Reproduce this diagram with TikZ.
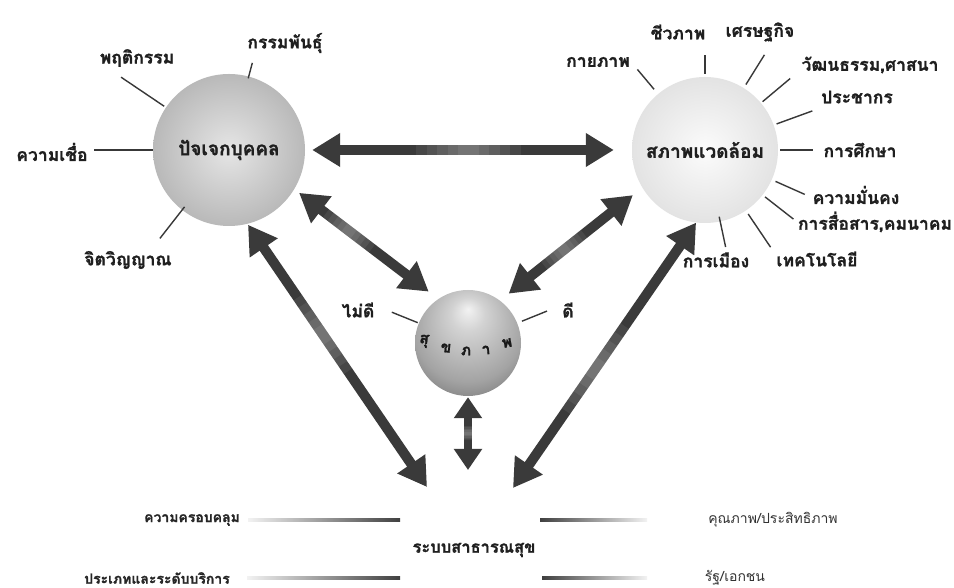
\documentclass[tikz,border=0pt]{standalone}
\usepackage{fontspec}
\usetikzlibrary{arrows.meta,calc}
\newfontfamily\thai[Script=Thai]{Loma}
\newfontfamily\thaihv[Script=Thai,FakeBold=1.2]{Loma}
\definecolor{arrcol}{RGB}{58,58,58}
\pgfdeclareradialshading{sphc}{\pgfpoint{0bp}{16bp}}{color(0bp)=(gray!10); color(8bp)=(gray!35); color(26bp)=(gray!72); color(50bp)=(black!78)}
\tikzset{
  lbl/.style={font=\thaihv\bfseries\fontsize{17.5}{20}\selectfont, inner sep=0pt, text=black!88},
  lbls/.style={font=\thaihv\bfseries\fontsize{14}{16}\selectfont, inner sep=0pt, text=black!85},
  lblr/.style={font=\thai\fontsize{14}{16}\selectfont, inner sep=0pt, text=black!80},
  lead/.style={draw=black!78, line width=1.4pt},
  bigarr/.style={draw=arrcol, line width=10pt, {Triangle[length=28pt,width=32pt]}-{Triangle[length=28pt,width=32pt]}},
  smallarr/.style={draw=arrcol, line width=8pt, {Triangle[length=21pt,width=27pt]}-{Triangle[length=21pt,width=27pt]}},
  hl/.style={draw=white, line width=10pt, opacity=0.07},
  sphere/.style={circle, inner sep=0pt},
  sphtxt/.style={font=\thaihv\bfseries\fontsize{19}{22}\selectfont, text=black!88}
}
\newcommand\ldr[4]{\draw[lead] ($(#1.#2)!-#3!(#1)$) -- ($(#1.#2)!-#4!(#1)$);}
% soft highlight on an arrow between points #2 and #3, centred at fraction #4, half-width #5
\newcommand\soft[5][10pt]{%
  \foreach \w in {1,0.8,0.6,0.4,0.2}{%
    \draw[hl, line width=#1] ($(#2)!{#4-#5*\w}!(#3)$) -- ($(#2)!{#4+#5*\w}!(#3)$);}}
\begin{document}
\begin{tikzpicture}[x=1pt,y=1pt]
\useasboundingbox (0,0) rectangle (954,588);
\fill[white] (0,0) rectangle (954,588);

% spheres
\node[sphere, minimum size=152pt, shade, inner color=gray!20, outer color=gray!55, sphtxt] (L) at (229,438) {ปัจเจกบุคคล};
\node[sphere, minimum size=146pt, shade, inner color=gray!3, outer color=gray!22, sphtxt] (R) at (705,438) {สภาพแวดล้อม};
\node[sphere, minimum size=106pt, shading=sphc] (C) at (468,245) {};

% letters on central sphere
\begin{scope}[every node/.style={font=\thaihv\bfseries\fontsize{15.5}{17}\selectfont, inner sep=0pt, text=black!90}]
\node[rotate=-8]  (h1) at (424,247) {สุ};
\node[rotate=-5]  (h2) at (446,240) {ข};
\node             (h3) at (466,237) {ภ};
\node[rotate=5]   (h4) at (486,238) {า};
\node[rotate=10]  (h5) at (507,245) {พ};
\end{scope}

% bottom label
\node[font=\thaihv\bfseries\fontsize{16.5}{19}\selectfont, inner sep=0pt, text=black!88] (S) at (474,38) {ระบบสาธารณสุข};

% arrows
\draw[bigarr, shorten <=7pt, shorten >=18pt] (L.east) -- (R.west);
\soft{L.east}{R.west}{0.5}{0.16}

\draw[bigarr, shorten <=6pt, shorten >=12pt] (L.-31) -- (C.124);
\soft{L.-31}{C.124}{0.38}{0.16}

\draw[bigarr, shorten <=12pt, shorten >=11pt] (R.-149) -- (C.53);
\soft{R.-149}{C.53}{0.55}{0.14}

\coordinate (a4) at (427,101);
\coordinate (a5) at (513,100);
\coordinate (a6) at (468,118);
\draw[bigarr, shorten <=1pt] (L.-76) -- (a4);
\soft{L.-76}{a4}{0.42}{0.14}
\draw[bigarr] (R.-97) -- (a5);
\soft{R.-97}{a5}{0.55}{0.16}
\draw[smallarr, shorten <=1pt] (C.south) -- (a6);
\soft[8pt]{C.south}{a6}{0.5}{0.1}

% labels left sphere
\node[lbl] (pf) at (137,530) {พฤติกรรม};
\node[lbl] (gp) at (285,545) {กรรมพันธุ์};
\node[lbl] (kc) at (52,436) {ความเชื่อ};
\node[lbl] (jv) at (128,328) {จิตวิญญาณ};
\ldr{L}{146}{2pt}{54pt}
\ldr{L}{75}{-2pt}{14pt}
\ldr{L}{180}{0pt}{59pt}
\ldr{L}{232}{-4pt}{36pt}

% labels right sphere
\node[lbl] (kp) at (598,526) {กายภาพ};
\node[lbl] (cp) at (678,556) {ชีวภาพ};
\node[lbl] (sk) at (760,556) {เศรษฐกิจ};
\node[lbl] (wt) at (870,523) {วัฒนธรรม,ศาสนา};
\node[lbl] (pc) at (857,491) {ประชากร};
\node[lbl] (ks) at (860,438) {การศึกษา};
\node[lbl] (mk) at (856,393) {ความมั่นคง};
\node[lbl] (ss) at (875,366) {การสื่อสาร,คมนาคม};
\node[lbl] (tn) at (817,329) {เทคโนโลยี};
\node[lbl] (km) at (716,328) {การเมือง};
\ldr{R}{130}{6pt}{32pt}
\ldr{R}{90}{3pt}{22pt}
\ldr{R}{58}{4pt}{39pt}
\ldr{R}{40}{2pt}{38pt}
\ldr{R}{20}{3pt}{41pt}
\ldr{R}{0}{2pt}{35pt}
\ldr{R}{-24}{4pt}{36pt}
\ldr{R}{-38}{3pt}{39pt}
\ldr{R}{-56}{4pt}{44pt}
\ldr{R}{-78}{-5pt}{26pt}

% labels central sphere
\node[lbl] (md) at (358,278) {ไม่ดี};
\node[lbl] (dd) at (568,278) {ดี};
\ldr{C}{158}{1pt}{29pt}
\ldr{C}{22}{5pt}{32pt}

% bottom labels and gradient bars
\node[lbls] (b1) at (192,68) {ความครอบคลุม};
\node[lbls] (b2) at (157,10) {ประเภทและระดับบริการ};
\node[lblr] (b3) at (773,68) {คุณภาพ/ประสิทธิภาพ};
\node[lblr] (b4) at (735,10) {รัฐ/เอกชน};
\shade[left color=gray!10, right color=black!75] (248,66.5) rectangle (400,69.5);
\shade[left color=gray!10, right color=black!75] (247,8.5) rectangle (400,11.5);
\shade[left color=black!75, right color=gray!10] (540,66.5) rectangle (647,69.5);
\shade[left color=black!75, right color=gray!10] (542,8.5) rectangle (647,11.5);
\end{tikzpicture}
\end{document}
